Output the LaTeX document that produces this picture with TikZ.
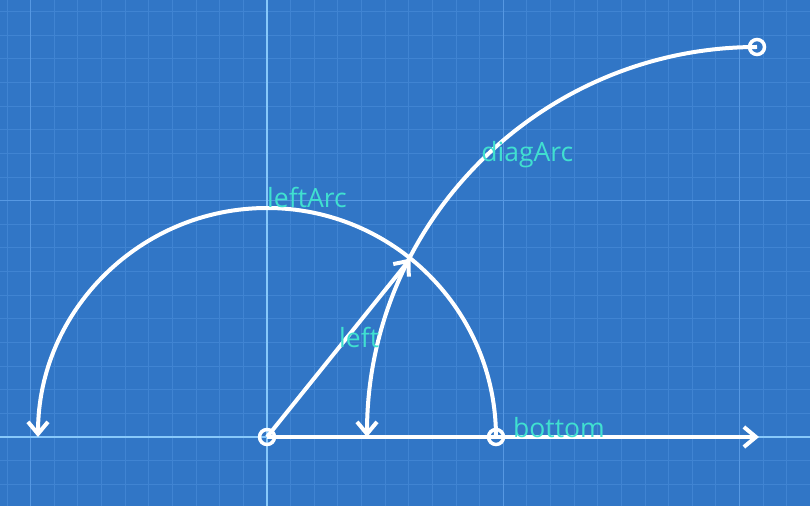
\documentclass[tikz,border=0pt]{standalone}
\usepackage{fontspec}
\setmainfont{Open Sans}
\usetikzlibrary{arrows.meta}
\definecolor{paper}{RGB}{49,118,198}
\definecolor{minorgrid}{RGB}{64,132,210}
\definecolor{majorgrid}{RGB}{86,152,226}
\definecolor{axisblue}{RGB}{135,200,250}
\definecolor{labelcyan}{RGB}{64,224,208}
\tikzstyle{Marker}=[shape=circle, minimum size=15pt, inner sep=0pt, line width=3.5pt, draw=white, fill=none]
\tikzstyle{Label}=[anchor=base west, inner sep=0pt, text=labelcyan, font=\fontsize{26.5}{31}\selectfont]
\tikzstyle{arrow}=[line width=4pt, draw=white, -{Straight Barb[length=12pt, width=20pt]}]
\pgfdeclarelayer{gridlayer}
\pgfsetlayers{gridlayer, main}

\begin{document}
\begin{tikzpicture}[x=1pt, y=1pt]
	\begin{pgfonlayer}{gridlayer}
		\fill [paper] (-267,-69) rectangle (543,437);
		\useasboundingbox (-267,-69) rectangle (543,437);
		\draw [minorgrid, line width=1pt, step=23.63] (-267,-69) grid (543,437);
		\draw [majorgrid, line width=1.5pt, step=236.3] (-267,-69) grid (543,437);
		% axes
		\draw [axisblue, line width=2pt] (-267,0) -- (543,0);
		\draw [axisblue, line width=2pt] (0,-69) -- (0,437);
	\end{pgfonlayer}
	\node [style=Marker] (origin) at (0, 0) {};
	\node [style=Marker] (radius_end) at (229, 0) {};
	\node [style=Marker] (diag_start) at (490, 390) {};
	\coordinate (left_tip) at (51.2:229);
	\coordinate (bottom_end) at (492, 0);
	% vectors
	\draw [style=arrow] (origin.center) -- (bottom_end);
	\draw [style=arrow] (origin.center) -- (left_tip);
	% arcs
	\draw [style=arrow] (radius_end.center) arc [start angle=0, end angle=180, radius=229];
	\draw [style=arrow] (diag_start.center) arc [start angle=90, end angle=180, radius=390];
	% labels
	\node [style=Label] (bottom_label) at (246, 0) {bottom};
	\node [style=Label] (left_label) at (72, 89.5) {left};
	\node [style=Label] (leftarc_label) at (0, 229) {leftArc};
	\node [style=Label] (diagarc_label) at (214.2, 275.8) {diagArc};
\end{tikzpicture}
\end{document}
